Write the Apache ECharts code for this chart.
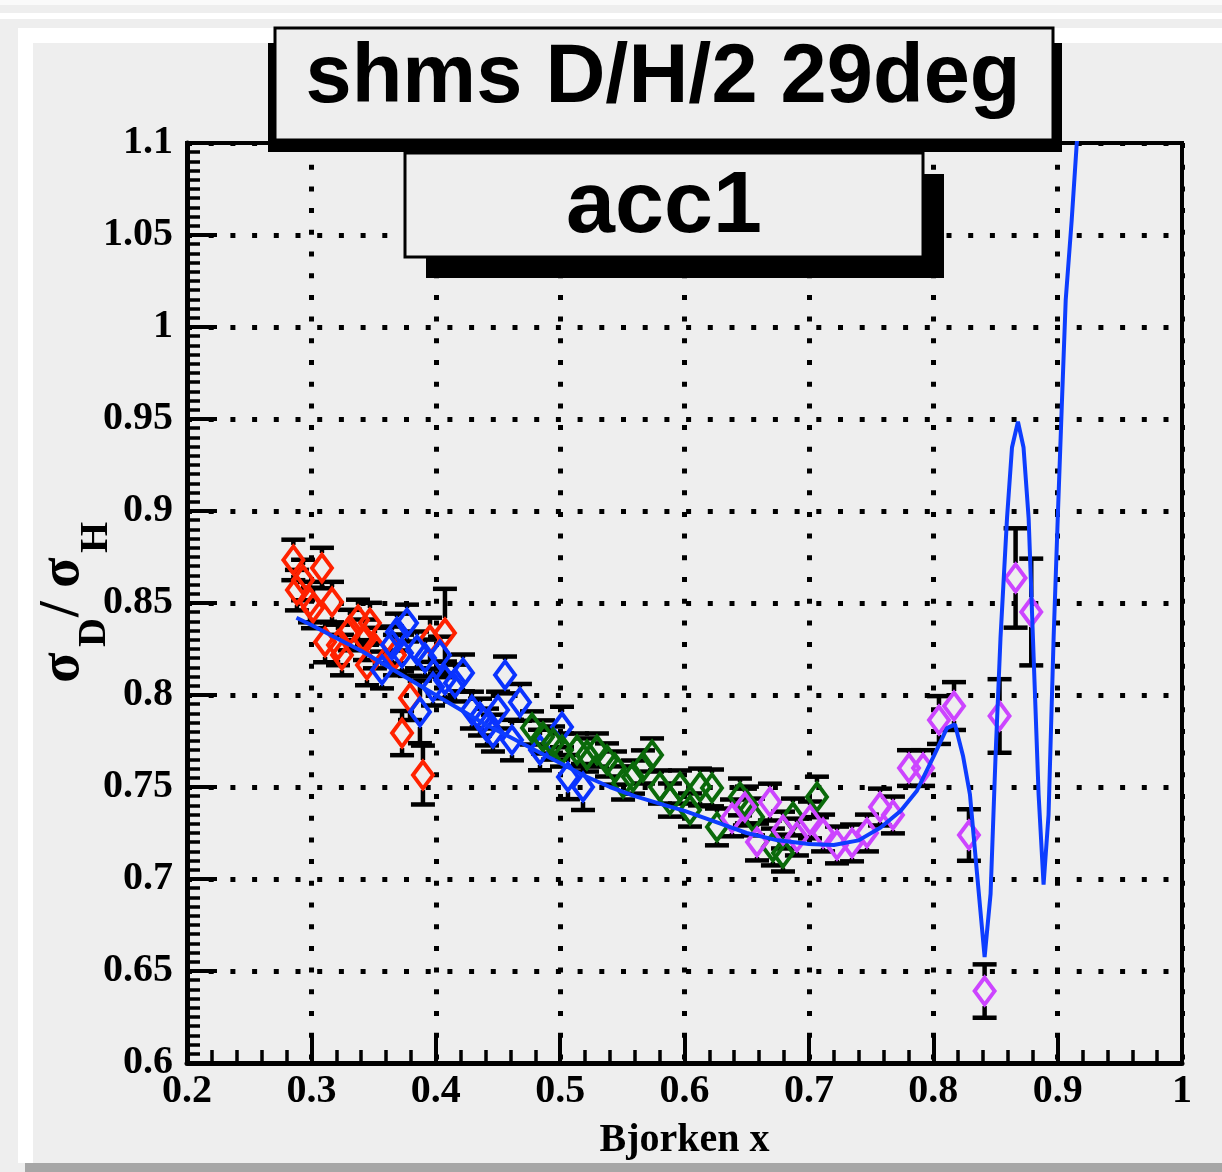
<!DOCTYPE html>
<html><head><meta charset="utf-8">
<script src="https://cdn.jsdelivr.net/npm/echarts@6/dist/echarts.min.js"></script>
<style>html,body{margin:0;padding:0;background:#eeeeee;}#c{width:1222px;height:1172px;}</style>
</head><body><div id="c"></div>
<script>
// ---------- data ----------
const titleMain = 'shms D/H/2 29deg';
const titleSub = 'acc1';
const xAxisTitle = 'Bjorken x';

const redX   = [0.2855,0.2884,0.2933,0.2989,0.3013,0.3085,0.3166,0.3110,0.3214,0.3246,0.3310,0.3375,0.3471,0.3431,0.3447,0.3511,0.3672,0.3729,0.3793,0.3897,0.3954,0.4074];
const redY   = [0.8734,0.8570,0.8625,0.8505,0.8473,0.8690,0.8505,0.8288,0.8272,0.8217,0.8353,0.8408,0.8391,0.8300,0.8163,0.8255,0.8217,0.7793,0.7984,0.7565,0.8300,0.8337];
const redErr = [0.011,0.011,0.011,0.011,0.011,0.011,0.011,0.011,0.011,0.011,0.011,0.011,0.011,0.011,0.011,0.011,0.011,0.012,0.012,0.016,0.012,0.024];

const blueX   = [0.3568,0.3648,0.3688,0.3769,0.3729,0.3849,0.3873,0.3914,0.3978,0.4034,0.4074,0.4155,0.4219,0.4291,0.4356,0.4412,0.4460,0.4501,0.4557,0.4613,0.4677,0.4838,0.5015,0.5063,0.5184];
const blueY   = [0.8136,0.8272,0.8342,0.8391,0.8228,0.8245,0.7908,0.8201,0.8043,0.8217,0.8082,0.8065,0.8120,0.7918,0.7880,0.7826,0.7793,0.7918,0.8109,0.7755,0.7960,0.7701,0.7826,0.7554,0.7500];
const blueErr = [0.010,0.010,0.010,0.010,0.010,0.010,0.017,0.010,0.010,0.010,0.010,0.010,0.010,0.010,0.010,0.010,0.010,0.010,0.010,0.011,0.010,0.011,0.011,0.012,0.0125];

const greenX   = [0.4774,0.4862,0.4943,0.5015,0.5136,0.5216,0.5296,0.5377,0.5441,0.5506,0.5586,0.5666,0.5739,0.5803,0.5883,0.5964,0.6044,0.6125,0.6221,0.6261,0.6446,0.6502,0.6551,0.6711,0.6792,0.6872,0.7065];
const greenY   = [0.7821,0.7772,0.7739,0.7701,0.7701,0.7674,0.7701,0.7647,0.7603,0.7522,0.7554,0.7609,0.7674,0.7500,0.7429,0.7500,0.7375,0.7500,0.7495,0.7283,0.7446,0.7402,0.7337,0.7174,0.7141,0.7337,0.7446];
const greenErr = [0.009,0.009,0.009,0.009,0.009,0.009,0.009,0.009,0.009,0.009,0.009,0.009,0.009,0.009,0.009,0.009,0.009,0.010,0.010,0.010,0.010,0.010,0.010,0.010,0.010,0.010,0.011];

const purpleX   = [0.6382,0.6486,0.6583,0.6687,0.6792,0.6904,0.7009,0.7114,0.7226,0.7347,0.7467,0.7572,0.7676,0.7805,0.7918,0.8046,0.8167,0.8287,0.8413,0.8533,0.8662,0.8788];
const purpleY   = [0.7332,0.7391,0.7201,0.7418,0.7266,0.7228,0.7321,0.7250,0.7185,0.7196,0.7250,0.7391,0.7348,0.7603,0.7603,0.7864,0.7940,0.7239,0.6391,0.7886,0.8636,0.8451];
const purpleErr = [0.010,0.010,0.010,0.010,0.010,0.010,0.010,0.010,0.010,0.010,0.010,0.010,0.010,0.0097,0.0097,0.013,0.013,0.014,0.0145,0.020,0.027,0.029];

const curveX = [0.288,0.30,0.32,0.34,0.36,0.38,0.40,0.42,0.44,0.46,0.48,0.50,0.52,0.54,0.56,0.58,0.60,0.625,0.65,0.675,0.70,0.72,0.74,0.7577,0.7737,0.7869,0.8006,0.8110,0.8175,0.8239,0.8295,0.8352,0.8413,0.8461,0.8501,0.8541,0.8593,0.8633,0.8681,0.8726,0.8767,0.8807,0.8847,0.8887,0.8927,0.8968,0.9003,0.9035,0.9065,0.9113,0.9153,0.918];
const curveY = [0.842,0.838,0.831,0.824,0.816,0.808,0.800,0.792,0.784,0.777,0.770,0.763,0.756,0.750,0.745,0.741,0.737,0.731,0.725,0.721,0.719,0.7185,0.721,0.728,0.737,0.748,0.767,0.782,0.784,0.767,0.746,0.703,0.6576,0.692,0.767,0.8315,0.896,0.9345,0.9485,0.9345,0.896,0.8207,0.746,0.697,0.7348,0.8315,0.900,0.960,1.0147,1.058,1.099,1.12];

const xMin = 0.2, xMax = 1.0, xStep = 0.1;
const yMin = 0.6, yMax = 1.1, yStep = 0.05;

// ---------- build ----------
const zip3 = (a,b,c) => a.map((v,i)=>[v,b[i],c[i]]);
const zip2 = (a,b) => a.map((v,i)=>[v,b[i]]);

const COL = {red:'#ff2200', blue:'#0a33ff', green:'#0a6a0a', purple:'#cc44ff', curve:'#0d3dff'};
const SERIF = '"Liberation Serif","Times New Roman",serif';
const SANS = '"Liberation Sans",Arial,Helvetica,sans-serif';

function errRender(params, api){
  const x = api.value(0), y = api.value(1), e = api.value(2);
  const c = api.coord([x,y]);
  const t = api.coord([x,y+e]);
  const b = api.coord([x,y-e]);
  const gap = 15, cap = 12;
  const st = {stroke:'#000', lineWidth:4.5};
  const ch = [];
  if (c[1]-t[1] > gap) ch.push({type:'line', shape:{x1:c[0],y1:c[1]-gap,x2:c[0],y2:t[1]}, style:st});
  if (b[1]-c[1] > gap) ch.push({type:'line', shape:{x1:c[0],y1:c[1]+gap,x2:c[0],y2:b[1]}, style:st});
  ch.push({type:'line', shape:{x1:c[0]-cap,y1:t[1],x2:c[0]+cap,y2:t[1]}, style:st});
  ch.push({type:'line', shape:{x1:c[0]-cap,y1:b[1],x2:c[0]+cap,y2:b[1]}, style:st});
  return {type:'group', children:ch};
}
function errSeries(xs,ys,es){
  return {type:'custom', renderItem:errRender, data:zip3(xs,ys,es), encode:{x:0,y:1}, clip:true, silent:true, animation:false};
}
function ptSeries(xs,ys,color){
  return {type:'scatter', data:zip2(xs,ys), symbol:'diamond', symbolSize:[20,27],
    itemStyle:{color:'rgba(0,0,0,0)', borderColor:color, borderWidth:4, opacity:1},
    emphasis:{disabled:true}, silent:true, animation:false, clip:true};
}

const chart = echarts.init(document.getElementById('c'), null, {renderer:'canvas'});
chart.setOption({
  animation:false,
  backgroundColor:'#eeeeee',
  grid:{left:187, top:143, width:995, height:920, show:true, borderColor:'#000', borderWidth:4, backgroundColor:'transparent'},
  xAxis:{type:'value', min:xMin, max:xMax, interval:xStep,
    axisLine:{show:true, onZero:false, lineStyle:{color:'#000', width:5}},
    axisTick:{show:true, inside:true, length:30, lineStyle:{color:'#000', width:4}},
    minorTick:{show:true, splitNumber:5, length:13, lineStyle:{color:'#000', width:3.5}},
    splitLine:{show:true, lineStyle:{color:'#000', width:5, type:[5,16.7]}},
    axisLabel:{color:'#000', fontFamily:SERIF, fontWeight:'bold', fontSize:40, margin:9, showMinLabel:true, showMaxLabel:true},
    name:xAxisTitle, nameLocation:'middle', nameGap:58,
    nameTextStyle:{color:'#000', fontFamily:SERIF, fontWeight:'bold', fontSize:40}
  },
  yAxis:{type:'value', min:yMin, max:yMax, interval:yStep,
    axisLine:{show:true, onZero:false, lineStyle:{color:'#000', width:5}},
    axisTick:{show:true, inside:true, length:30, lineStyle:{color:'#000', width:4}},
    minorTick:{show:true, splitNumber:10, length:13, lineStyle:{color:'#000', width:3.5}},
    splitLine:{show:true, lineStyle:{color:'#000', width:5, type:[5,16.7]}},
    axisLabel:{color:'#000', fontFamily:SERIF, fontWeight:'bold', fontSize:40, margin:14, showMinLabel:true, showMaxLabel:true}
  },
  series:[
    {type:'line', data:zip2(curveX,curveY), showSymbol:false, smooth:false, clip:true,
      lineStyle:{color:COL.curve, width:4}, silent:true, animation:false},
    errSeries(redX,redY,redErr), ptSeries(redX,redY,COL.red),
    errSeries(blueX,blueY,blueErr), ptSeries(blueX,blueY,COL.blue),
    errSeries(greenX,greenY,greenErr), ptSeries(greenX,greenY,COL.green),
    errSeries(purpleX,purpleY,purpleErr), ptSeries(purpleX,purpleY,COL.purple)
  ],
  graphic:[
    // canvas bevels
    {type:'rect', z:-5, silent:true, shape:{x:0,y:0,width:1222,height:5}, style:{fill:'#fafafa'}},
    {type:'rect', z:-5, silent:true, shape:{x:0,y:13,width:1222,height:6}, style:{fill:'#ffffff'}},
    {type:'rect', z:-5, silent:true, shape:{x:18,y:28,width:1204,height:15}, style:{fill:'#ffffff'}},
    {type:'rect', z:-5, silent:true, shape:{x:18,y:28,width:15,height:1135}, style:{fill:'#ffffff'}},
    {type:'rect', z:-5, silent:true, shape:{x:25,y:1163,width:1197,height:9}, style:{fill:'#a6a6a6'}},
    // title box 1
    {type:'rect', z:100, silent:true, shape:{x:268,y:43,width:794,height:109}, style:{fill:'#000'}},
    {type:'rect', z:101, silent:true, shape:{x:275,y:28,width:778,height:112}, style:{fill:'#eeeeee', stroke:'#000', lineWidth:3}},
    {type:'text', z:102, silent:true, style:{text:titleMain, x:663, y:79, align:'center', verticalAlign:'middle',
      font:'bold 83px ' + SANS, fill:'#000'}},
    // title box 2
    {type:'rect', z:100, silent:true, shape:{x:426,y:174,width:518,height:104}, style:{fill:'#000'}},
    {type:'rect', z:101, silent:true, shape:{x:405,y:153,width:518,height:104}, style:{fill:'#eeeeee', stroke:'#000', lineWidth:3}},
    {type:'text', z:102, silent:true, style:{text:titleSub, x:664, y:208, align:'center', verticalAlign:'middle',
      font:'bold 88px ' + SANS, fill:'#000'}},
    // y axis title (rotated)
    {type:'group', z:50, x:83, y:683, rotation:Math.PI/2, silent:true, children:[
      {type:'text', style:{text:'σ', x:0, y:-19, verticalAlign:'middle', font:'bold 56px ' + SERIF, fill:'#000'}},
      {type:'text', style:{text:'D', x:36, y:11.5, verticalAlign:'middle', font:'bold 40px ' + SERIF, fill:'#000'}},
      {type:'text', style:{text:'/', x:66, y:-19, verticalAlign:'middle', font:'bold 56px ' + SERIF, fill:'#000'}},
      {type:'text', style:{text:'σ', x:95, y:-19, verticalAlign:'middle', font:'bold 56px ' + SERIF, fill:'#000'}},
      {type:'text', style:{text:'H', x:130, y:13.5, verticalAlign:'middle', font:'bold 40px ' + SERIF, fill:'#000'}}
    ]}
  ]
});
</script></body></html>
